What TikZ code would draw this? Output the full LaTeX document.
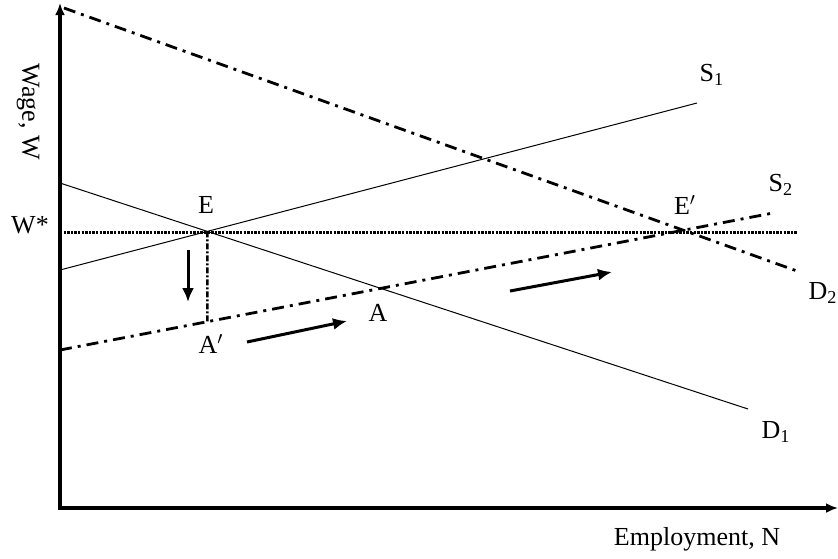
\documentclass[tikz,border=0pt]{standalone}
\usepackage{fontspec}
\setmainfont{Liberation Serif}
\usetikzlibrary{arrows.meta,calc}

\begin{document}
\begin{tikzpicture}[x=0.5pt, y=-0.5pt,
  font=\fontsize{13}{15}\selectfont, >={Latex[length=6pt,width=5pt]},
  axis/.style={line width=1.6pt},
  curve/.style={line width=0.5pt},
  shifted/.style={line width=1.4pt, dash pattern=on 6pt off 3pt on 1.5pt off 3pt},
  wage/.style={line width=1.5pt, dash pattern=on 1.2pt off 0.6pt},
  guide/.style={line width=1.3pt, dash pattern=on 3pt off 1pt on 1pt off 1pt},
  move/.style={line width=1.5pt, -{Latex[length=7pt,width=6pt]}},
  lbl/.style={inner sep=1pt}]
  \useasboundingbox (0,0) rectangle (838,558);
  % axes
  \coordinate (ytop) at (60,3);
  \coordinate (xend) at (838,508);
  \draw[axis,<->] (ytop) |- (xend);
  \node[lbl, rotate=-90] (ylab) at (28,112) {Wage, W};
  \node[lbl] (xlab) at (697,539) {Employment, N};
  % demand and supply
  \coordinate (D1s) at (60,183);  \coordinate (D1e) at (748,409);
  \coordinate (S1s) at (60,270);  \coordinate (S1e) at (697,103);
  \coordinate (D2s) at (64,8);    \coordinate (D2e) at (797,271);
  \coordinate (S2s) at (60,350);  \coordinate (S2e) at (773,213);
  \coordinate (Ws) at (60,232);   \coordinate (We) at (797,232);
  \draw[wage] (Ws) -- (We);
  \draw[curve] (D1s) -- (D1e);
  \draw[curve] (S1s) -- (S1e);
  \draw[shifted] (D2s) -- (D2e);
  \draw[shifted] (S2s) -- (S2e);
  % equilibria
  \coordinate (E) at (intersection of D1s--D1e and S1s--S1e);
  \coordinate (Eb) at ($(E)+(0,150)$);
  \coordinate (Ap) at (intersection of E--Eb and S2s--S2e);
  \draw[guide] (E) -- (Ap);
  \node[lbl] (wstar) at (30,225) {W*};
  \node[lbl] (Elbl) at (206,205) {E};
  \node[lbl] (Aplbl) at (211,344) {A$'$};
  \node[lbl] (Albl) at (378,313) {A};
  \node[lbl] (Eplbl) at (685,205) {E$'$};
  \node[lbl] (S1lbl) at (712,75) {S\textsubscript{1}};
  \node[lbl] (S2lbl) at (781,185) {S\textsubscript{2}};
  \node[lbl] (D2lbl) at (823,293) {D\textsubscript{2}};
  \node[lbl] (D1lbl) at (776,432) {D\textsubscript{1}};
  % movements
  \coordinate (m1s) at (188,250); \coordinate (m1e) at (188,302);
  \coordinate (m2s) at (247,342); \coordinate (m2e) at (347,321);
  \coordinate (m3s) at (510,291); \coordinate (m3e) at (612,272);
  \draw[move] (m1s) -- (m1e);
  \draw[move] (m2s) -- (m2e);
  \draw[move] (m3s) -- (m3e);
\end{tikzpicture}
\end{document}
